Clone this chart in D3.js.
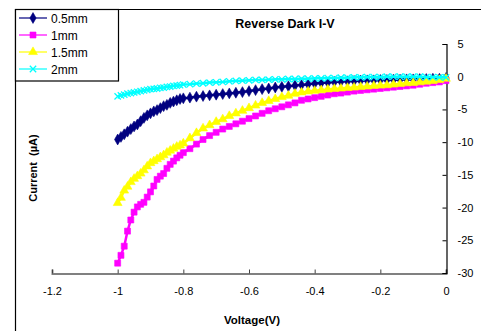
<!DOCTYPE html>
<html><head><meta charset="utf-8">
<script src="https://cdn.jsdelivr.net/npm/d3@7"></script>
<style>
body{margin:0;background:#fff;}
text{font-family:"Liberation Sans",Arial,sans-serif;}
</style></head>
<body>
<svg id="chart" width="481" height="331"></svg>
<script>
const voltage = [-1.00,-0.99,-0.98,-0.97,-0.96,-0.95,-0.94,-0.93,-0.92,-0.91,-0.90,-0.89,-0.88,-0.87,-0.86,-0.85,-0.84,-0.83,-0.82,-0.81,-0.80,
  -0.78,-0.76,-0.74,-0.72,-0.70,-0.68,-0.66,-0.64,-0.62,-0.60,-0.58,-0.56,-0.54,-0.52,-0.50,-0.48,-0.46,-0.44,-0.42,-0.40,
  -0.38,-0.36,-0.34,-0.32,-0.30,-0.28,-0.26,-0.24,-0.22,-0.20,-0.18,-0.16,-0.14,-0.12,-0.10,-0.08,-0.06,-0.04,-0.02,0.00];

const current05 = [-9.6,-9.2,-8.8,-8.4,-8.0,-7.6,-7.3,-6.8,-6.3,-5.9,-5.6,-5.3,-5.1,-4.8,-4.5,-4.3,-4.0,-3.8,-3.6,-3.4,-3.3,
  -3.2,-3.05,-2.95,-2.85,-2.75,-2.65,-2.55,-2.45,-2.35,-2.2,-2.05,-1.9,-1.8,-1.65,-1.55,-1.45,-1.35,-1.25,-1.15,-1.05,
  -0.95,-0.9,-0.8,-0.75,-0.7,-0.65,-0.6,-0.55,-0.55,-0.5,-0.5,-0.45,-0.45,-0.4,-0.4,-0.35,-0.35,-0.3,-0.3,-0.2];

const current1 = [-28.5,-27.3,-25.9,-23.6,-21.9,-20.7,-19.9,-19.5,-19.2,-18.4,-17.6,-16.7,-15.7,-15.2,-14.8,-14.0,-13.4,-12.9,-12.4,-12.0,-11.6,
  -11.0,-10.3,-9.6,-9.0,-8.5,-8.0,-7.6,-7.2,-6.8,-6.4,-6.0,-5.6,-5.2,-4.9,-4.6,-4.3,-4.0,-3.6,-3.4,-3.2,
  -3.0,-2.8,-2.6,-2.5,-2.35,-2.2,-2.1,-2.0,-1.9,-1.8,-1.7,-1.6,-1.5,-1.4,-1.3,-1.15,-1.0,-0.9,-0.8,-0.6];

const current15 = [-19.3,-18.5,-17.4,-16.8,-16.1,-15.6,-15.2,-14.8,-14.3,-13.7,-13.2,-12.9,-12.6,-12.3,-12.0,-11.6,-11.3,-11.0,-10.7,-10.5,-10.2,
  -9.4,-8.6,-7.9,-7.4,-6.9,-6.5,-6.0,-5.6,-5.2,-4.8,-4.4,-4.0,-3.7,-3.4,-3.1,-2.9,-2.6,-2.4,-2.25,-2.15,
  -2.05,-1.95,-1.85,-1.8,-1.7,-1.65,-1.55,-1.5,-1.4,-1.35,-1.3,-1.2,-1.1,-1.0,-0.95,-0.85,-0.75,-0.65,-0.5,-0.3];

const current2 = [-3.0,-2.85,-2.75,-2.6,-2.5,-2.4,-2.3,-2.2,-2.1,-2.0,-1.9,-1.85,-1.8,-1.7,-1.65,-1.55,-1.5,-1.4,-1.35,-1.3,-1.2,
  -1.15,-1.05,-1.0,-0.9,-0.85,-0.8,-0.7,-0.65,-0.6,-0.55,-0.5,-0.5,-0.45,-0.4,-0.4,-0.35,-0.35,-0.3,-0.3,-0.25,
  -0.25,-0.2,-0.2,-0.15,-0.15,-0.1,-0.1,-0.05,-0.05,-0.05,0,0,0,0,0,0,-0.05,-0.05,-0.1,-0.1];

const seriesNames = ["0.5mm","1mm","1.5mm","2mm"];
const seriesColors = ["#000080","#FF00FF","#FFFF00","#00FFFF"];
const seriesSymbols = ["diamond","square","triangle","cross"];
const seriesValues = [current05, current1, current15, current2];

const xTicks = [-1.2,-1,-0.8,-0.6,-0.4,-0.2,0];
const xTickLabels = ["-1.2","-1","-0.8","-0.6","-0.4","-0.2","0"];
const yTicks = [5,0,-5,-10,-15,-20,-25,-30];
const yTickLabels = ["5","0","-5","-10","-15","-20","-25","-30"];

const svg = d3.select("#chart");
const x = d3.scaleLinear().domain([-1.2,0]).range([52,446]);
const y = d3.scaleLinear().domain([-30,5]).range([273,44]);

// outer frame
svg.append("line").attr("x1",15.5).attr("x2",15.5).attr("y1",9).attr("y2",331).attr("stroke","#000").attr("stroke-width",1.2);
svg.append("line").attr("x1",15).attr("x2",481).attr("y1",9.5).attr("y2",9.5).attr("stroke","#000").attr("stroke-width",1.2);

// title
svg.append("text").attr("x",285).attr("y",28).attr("text-anchor","middle")
  .style("font-size","12.5px").style("font-weight","bold").text("Reverse Dark I-V");

// x axis
const xAxis = d3.axisBottom(x).tickValues(xTicks).tickSize(-4).tickPadding(14)
  .tickFormat((d,i) => xTickLabels[i]);
const gx = svg.append("g").attr("transform","translate(0,273.5)").call(xAxis);
gx.select(".domain").attr("stroke","#808080").attr("stroke-width",2);
gx.selectAll(".tick line").attr("stroke","#404040");
gx.selectAll("text").style("font-size","11px").attr("fill","#000").attr("font-family","Liberation Sans, Arial");

// y axis (on right)
const yAxis = d3.axisRight(y).tickValues(yTicks).tickSize(-4).tickPadding(11)
  .tickFormat((d,i) => yTickLabels[i]);
const gy = svg.append("g").attr("transform","translate(446.5,0)").call(yAxis);
gy.select(".domain").attr("stroke","#000").attr("stroke-width",1.2);
gy.selectAll(".tick line").attr("stroke","#000");
gy.selectAll("text").style("font-size","11px").attr("fill","#000").attr("font-family","Liberation Sans, Arial");

// axis titles
svg.append("text").attr("x",252).attr("y",324).attr("text-anchor","middle")
  .style("font-size","11.5px").style("font-weight","bold").text("Voltage(V)");
svg.append("text").attr("transform","translate(37,168) rotate(-90)").attr("text-anchor","middle")
  .style("font-size","11px").style("font-weight","bold").style("white-space","pre").text("Current  (\u00B5A)");

// series
const symMap = {diamond:d3.symbolDiamond, square:d3.symbolSquare, triangle:d3.symbolTriangle, cross:d3.symbolX};
const symSize = {diamond:34, square:36, triangle:34, cross:28};
function drawSymbol(g, sym, color){
  if(sym === "cross"){
    g.append("path").attr("d", d3.symbol().type(symMap[sym]).size(symSize[sym])())
      .attr("fill","none").attr("stroke",color).attr("stroke-width",1.3);
  } else {
    g.append("path").attr("d", d3.symbol().type(symMap[sym]).size(symSize[sym])())
      .attr("fill",color).attr("stroke",color).attr("stroke-width",0.6);
  }
}
const line = d3.line().x(d=>x(d[0])).y(d=>y(d[1]));
seriesValues.forEach((vals,i) => {
  const pts = voltage.map((v,j)=>[v, vals[j]]);
  const g = svg.append("g");
  g.append("path").datum(pts).attr("d",line).attr("fill","none")
    .attr("stroke",seriesColors[i]).attr("stroke-width",2.5);
  pts.forEach(p => {
    const m = g.append("g").attr("transform",`translate(${x(p[0])},${y(p[1])})`);
    drawSymbol(m, seriesSymbols[i], seriesColors[i]);
  });
});

// legend
const leg = svg.append("g");
leg.append("rect").attr("x",15.5).attr("y",9.5).attr("width",103).attr("height",71.5)
  .attr("fill","#fff").attr("stroke","#000").attr("stroke-width",1.2);
const legY = [18,35,52,69];
seriesNames.forEach((n,i)=>{
  leg.append("line").attr("x1",19).attr("x2",47).attr("y1",legY[i]).attr("y2",legY[i])
    .attr("stroke",seriesColors[i]).attr("stroke-width",1.2);
  const m = leg.append("g").attr("transform",`translate(33,${legY[i]})`);
  drawSymbol(m, seriesSymbols[i], seriesColors[i]);
  leg.append("text").attr("x",51).attr("y",legY[i]+4.5).style("font-size","12px").text(n);
});
</script>
</body></html>
